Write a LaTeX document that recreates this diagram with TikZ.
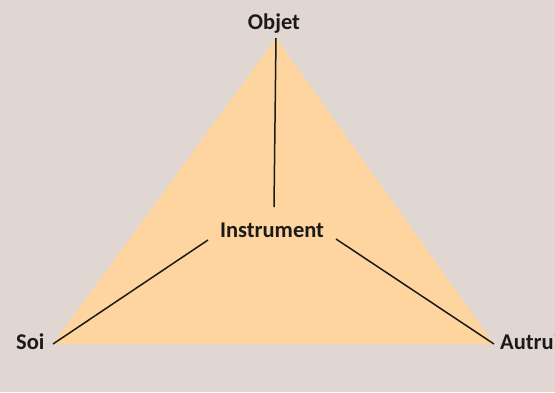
\documentclass[tikz,border=0pt]{standalone}
\usepackage{fontspec}
\setmainfont{Carlito}
\usepackage{tikz}
\usetikzlibrary{calc,positioning}
\definecolor{paper}{RGB}{224,215,211}
\definecolor{peach}{RGB}{254,213,158}
\definecolor{ink}{RGB}{26,26,26}
\tikzset{
  pole/.style={font=\fontsize{22.5}{25}\selectfont\bfseries, text=ink,
               inner sep=0pt, anchor=base},
  link/.style={ink, line width=1.5pt},
}

\begin{document}
\begin{tikzpicture}[x=1pt,y=-1pt]
  % fond
  \fill[paper] (0,0) rectangle (555,392);
  \useasboundingbox (0,0) rectangle (555,392);
  % sommets du triangle
  \coordinate (top) at (276,38);
  \coordinate (left) at (53,344);
  \coordinate (right) at (494,344);
  \fill[peach] (top) -- (left) -- (right) -- cycle;
  % extremites interieures des liens
  \coordinate (in-top) at (274,207);
  \coordinate (in-left) at (208,240);
  \coordinate (in-right) at (336,239);
  % etiquettes
  \node[pole] (objet) at (274,29) {Objet};
  \node[pole] (instr) at (272,237) {Instrument};
  \node[pole, anchor=base west] (soi) at (16,349) {Soi};
  \node[pole, anchor=base west] (autrui) at (500,349) {Autrui};
  % liens
  \draw[link] (top) -- (in-top);
  \draw[link] (left) -- (in-left);
  \draw[link] (right) -- (in-right);
\end{tikzpicture}
\end{document}
